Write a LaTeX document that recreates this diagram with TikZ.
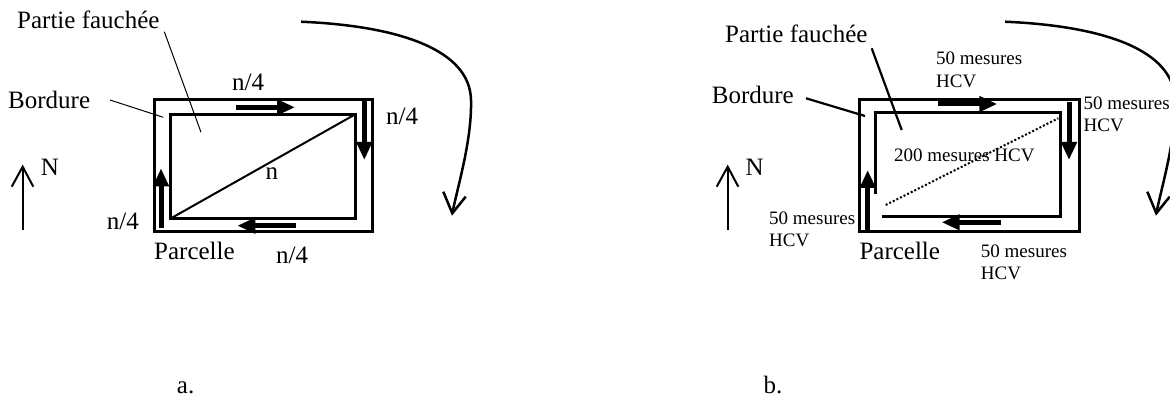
\documentclass[tikz,border=0pt]{standalone}
\usepackage{fontspec}
\setmainfont{Liberation Serif}
\usetikzlibrary{arrows.meta}
\begin{document}
\begin{tikzpicture}[x=1pt,y=-1pt,
  lbl/.style={inner sep=0pt, anchor=base west, font=\fontsize{25}{30}\selectfont},
  small/.style={inner sep=0pt, anchor=base west, font=\fontsize{19}{23}\selectfont},
  frame/.style={line width=3pt},
  flow/.style={line width=5pt, -{Triangle[length=18pt,width=15pt]}},
  thinleader/.style={line width=1pt},
  boldleader/.style={line width=2.2pt},
  northarrow/.style={line width=2pt, line join=miter},
  turn/.style={line width=2.5pt, line join=miter}]
\useasboundingbox (0,0) rectangle (1170,398);
% ---------------- panel a ----------------
\draw[frame] (154,99.3) rectangle (372.7,231.3);
\draw[frame] (170,114.3) rectangle (355.3,218.3);
\coordinate (diagA1) at (171,218.3);
\coordinate (diagA2) at (355.3,114.3);
\draw[line width=2pt] (diagA1) -- (diagA2);
\coordinate (topA1) at (236,107.3);   \coordinate (topA2) at (295,107.3);
\coordinate (rgtA1) at (364.3,100);   \coordinate (rgtA2) at (364.3,160);
\coordinate (botA1) at (295.7,225.7); \coordinate (botA2) at (237.3,225.7);
\coordinate (lftA1) at (161,228.3);   \coordinate (lftA2) at (161,168.3);
\draw[flow] (topA1) -- (topA2);
\draw[flow] (rgtA1) -- (rgtA2);
\draw[flow] (botA1) -- (botA2);
\draw[flow] (lftA1) -- (lftA2);
\node[lbl] (pfa) at (17,28.3) {Partie fauchée};
\node[lbl] (bda) at (8,109) {Bordure};
\node[lbl] (nta) at (232,91) {n/4};
\node[lbl] (nra) at (386,124.5) {n/4};
\node[lbl] (nda) at (265.5,179.3) {n};
\node[lbl] (nla) at (106.7,229.5) {n/4};
\node[lbl] (pca) at (154,259) {Parcelle};
\node[lbl] (nba) at (276,263) {n/4};
\node[lbl] (Na) at (40.7,175.7) {N};
\node[lbl] (la) at (176.7,393) {a.};
\coordinate (pfaS) at (164.3,31.7); \coordinate (pfaE) at (201,132.3);
\coordinate (bdaS) at (110,100);    \coordinate (bdaE) at (163.3,117.3);
\draw[thinleader] (pfaS) -- (pfaE);
\draw[thinleader] (bdaS) -- (bdaE);
\coordinate (NaB) at (22.7,230); \coordinate (NaT) at (22.7,167);
\draw[northarrow] (NaB) -- (NaT);
\draw[northarrow] (11.7,186.7) -- (22.7,166.7) -- (33.3,186.7);
\draw[turn] (301,21.7) .. controls (400,26) and (470,50) .. (471,100)
  .. controls (472,140) and (458,185) .. (452.3,213.3);
\draw[turn] (443.3,191.7) -- (452.3,213.3) -- (465.7,196.7);
% ---------------- panel b ----------------
\draw[frame] (859,100) rectangle (1079,231.7);
\draw[frame] (875,194.3) -- (875,112.3) -- (1060.7,112.3) -- (1060.7,217) -- (882.3,217);
\coordinate (diagB1) at (885.7,205);
\coordinate (diagB2) at (1058.3,118.3);
\draw[line width=2pt, dotted] (diagB1) -- (diagB2);
\coordinate (topB1) at (938.3,104);   \coordinate (topB2) at (997.3,104);
\coordinate (rgtB1) at (1069,101.7);  \coordinate (rgtB2) at (1069,160);
\coordinate (botB1) at (1000.7,222.3);\coordinate (botB2) at (941.7,222.3);
\coordinate (lftB1) at (867.7,230);   \coordinate (lftB2) at (867.7,170);
\draw[flow] (topB1) -- (topB2);
\draw[flow] (rgtB1) -- (rgtB2);
\draw[flow] (botB1) -- (botB2);
\draw[flow] (lftB1) -- (lftB2);
\node[lbl] (pfb) at (725,42.7) {Partie fauchée};
\node[lbl] (bdb) at (711.7,103.3) {Bordure};
\node[small] (mtb1) at (936,65) {50 mesures};
\node[small] (mtb2) at (936,87.7) {HCV};
\node[small] (mrb1) at (1083.5,109.3) {50 mesures};
\node[small] (mrb2) at (1083.5,131.7) {HCV};
\node[small] (mcb) at (894,161.7) {200 mesures HCV};
\node[small] (mlb1) at (769,225) {50 mesures};
\node[small] (mlb2) at (769,246.7) {HCV};
\node[lbl] (pcb) at (859.3,259.5) {Parcelle};
\node[small] (mbb1) at (980.7,257.3) {50 mesures};
\node[small] (mbb2) at (980.7,279) {HCV};
\node[lbl] (Nb) at (745.4,175.7) {N};
\node[lbl] (lb) at (763.3,393) {b.};
\coordinate (pfbS) at (871.7,48.3); \coordinate (pfbE) at (901.7,130);
\coordinate (bdbS) at (806,98.3);   \coordinate (bdbE) at (865,116);
\draw[boldleader] (pfbS) -- (pfbE);
\draw[boldleader] (bdbS) -- (bdbE);
\coordinate (NbB) at (727.7,230); \coordinate (NbT) at (727.7,167);
\draw[northarrow] (NbB) -- (NbT);
\draw[northarrow] (716.7,186.7) -- (727.7,166.7) -- (738.3,186.7);
\begin{scope}
\clip (0,0) rectangle (1170,398);
\draw[turn] (1005,21.7) .. controls (1104,26) and (1174,50) .. (1175,100)
  .. controls (1176,140) and (1162,185) .. (1156.3,213.3);
\draw[turn] (1147.3,191.7) -- (1156.3,213.3) -- (1169.7,196.7);
\end{scope}
\end{tikzpicture}
\end{document}
